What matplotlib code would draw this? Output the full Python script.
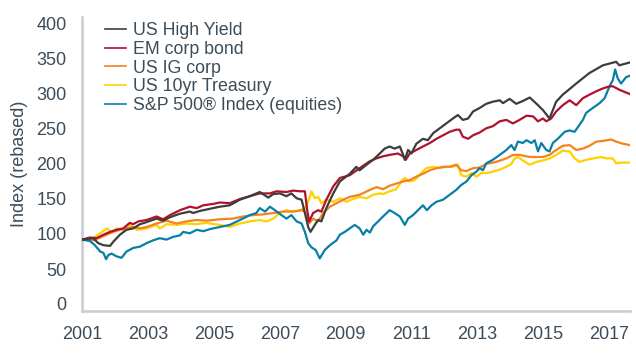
#!/usr/bin/env python3
"""Rebased index levels: credit vs treasuries vs equities, 2001-2017."""

import matplotlib
matplotlib.use("Agg")
import matplotlib.pyplot as plt

# values (fractional year, index level)
hy_x = [2001.0, 2001.34, 2001.49, 2001.65, 2001.85, 2001.95, 2002.15, 2002.35, 2002.55, 2002.76,
        2002.96, 2003.26, 2003.46, 2003.67, 2003.97, 2004.27, 2004.37, 2004.58, 2004.88, 2005.18,
        2005.48, 2005.79, 2006.09, 2006.39, 2006.49, 2006.65, 2006.8, 2007.0, 2007.2, 2007.35,
        2007.51, 2007.66, 2007.76, 2007.86, 2007.93, 2008.06, 2008.16, 2008.26, 2008.41, 2008.62,
        2008.82, 2009.12, 2009.32, 2009.42, 2009.63, 2009.83, 2010.03, 2010.18, 2010.33, 2010.48,
        2010.64, 2010.74, 2010.79, 2010.89, 2010.99, 2011.14, 2011.34, 2011.49, 2011.65, 2011.85,
        2012.05, 2012.25, 2012.4, 2012.55, 2012.71, 2012.86, 2013.06, 2013.26, 2013.46, 2013.67,
        2013.77, 2013.97, 2014.17, 2014.37, 2014.58, 2014.83, 2014.98, 2015.18, 2015.38, 2015.58,
        2015.99, 2016.39, 2016.8, 2017.2, 2017.3, 2017.61]
hy_y = [92, 94, 87, 84, 83, 89, 99, 106, 108, 114,
        117, 122, 119, 124, 129, 132, 130, 133, 136, 139,
        141, 149, 154, 160, 157, 152, 157, 158, 154, 158,
        151, 149, 130, 110, 103, 113, 120, 118, 137, 158,
        175, 186, 196, 191, 199, 206, 215, 222, 225, 222,
        225, 213, 206, 220, 215, 229, 236, 234, 244, 251,
        258, 265, 270, 263, 265, 275, 280, 286, 289, 291,
        287, 293, 286, 290, 295, 284, 277, 265, 289, 299,
        315, 330, 341, 346, 341, 345]

em_x = [2001.0, 2001.24, 2001.44, 2001.65, 2001.85, 2002.05, 2002.25, 2002.45, 2002.55, 2002.71,
        2002.96, 2003.26, 2003.46, 2003.67, 2003.97, 2004.27, 2004.48, 2004.68, 2004.98, 2005.18,
        2005.48, 2005.79, 2006.09, 2006.39, 2006.7, 2006.9, 2007.2, 2007.4, 2007.61, 2007.76,
        2007.83, 2007.89, 2008.01, 2008.16, 2008.26, 2008.41, 2008.62, 2008.82, 2009.12, 2009.42,
        2009.73, 2009.93, 2010.13, 2010.33, 2010.58, 2010.74, 2010.82, 2010.94, 2011.14, 2011.34,
        2011.55, 2011.75, 2011.95, 2012.15, 2012.35, 2012.45, 2012.55, 2012.71, 2012.86, 2013.06,
        2013.26, 2013.46, 2013.67, 2013.87, 2014.07, 2014.27, 2014.48, 2014.68, 2014.83, 2014.98,
        2015.08, 2015.23, 2015.38, 2015.58, 2015.79, 2015.99, 2016.19, 2016.39, 2016.6, 2016.8,
        2017.0, 2017.1, 2017.3, 2017.61]
em_y = [92, 95, 94, 99, 103, 106, 108, 116, 114, 118,
        120, 125, 121, 127, 134, 139, 137, 141, 143, 145,
        144, 150, 154, 158, 158, 161, 160, 162, 161, 161,
        134, 118, 130, 134, 132, 149, 168, 180, 184, 194,
        204, 208, 211, 213, 215, 211, 206, 215, 220, 225,
        230, 236, 241, 246, 249, 249, 239, 236, 241, 245,
        251, 254, 261, 263, 258, 263, 269, 268, 261, 265,
        261, 265, 275, 284, 291, 284, 294, 299, 304, 308,
        311, 311, 306, 300]

ig_x = [2001.0, 2001.34, 2001.55, 2001.75, 2001.95, 2002.15, 2002.35, 2002.55, 2002.76, 2002.96,
        2003.26, 2003.56, 2003.87, 2004.17, 2004.48, 2004.78, 2005.18, 2005.58, 2005.89, 2006.19,
        2006.49, 2006.8, 2007.1, 2007.4, 2007.66, 2007.76, 2007.83, 2007.89, 2008.01, 2008.16,
        2008.31, 2008.52, 2008.72, 2008.92, 2009.12, 2009.42, 2009.73, 2009.93, 2010.13, 2010.33,
        2010.53, 2010.74, 2010.94, 2011.14, 2011.34, 2011.55, 2011.75, 2011.95, 2012.15, 2012.35,
        2012.5, 2012.66, 2012.86, 2013.06, 2013.26, 2013.56, 2013.87, 2014.07, 2014.27, 2014.58,
        2014.78, 2014.98, 2015.18, 2015.38, 2015.58, 2015.79, 2015.99, 2016.19, 2016.39, 2016.6,
        2016.8, 2017.05, 2017.2, 2017.4, 2017.61]
ig_y = [92, 91, 95, 99, 103, 106, 108, 110, 108, 110,
        115, 119, 115, 118, 120, 119, 121, 122, 125, 127,
        128, 130, 132, 132, 134, 132, 122, 115, 122, 118,
        130, 139, 144, 149, 153, 156, 163, 167, 164, 169,
        172, 175, 177, 182, 186, 191, 194, 196, 196, 199,
        191, 190, 194, 195, 200, 203, 208, 213, 213, 210,
        210, 210, 213, 220, 226, 227, 220, 222, 226, 232,
        233, 235, 232, 229, 227]

tsy_x = [2001.0, 2001.24, 2001.49, 2001.75, 2001.9, 2002.05, 2002.25, 2002.45, 2002.66, 2002.96,
         2003.26, 2003.36, 2003.56, 2003.87, 2004.17, 2004.48, 2004.78, 2004.88, 2005.18, 2005.48,
         2005.79, 2006.09, 2006.39, 2006.6, 2006.8, 2007.0, 2007.2, 2007.4, 2007.61, 2007.76,
         2007.86, 2007.96, 2008.06, 2008.16, 2008.26, 2008.41, 2008.62, 2008.82, 2009.02, 2009.22,
         2009.42, 2009.63, 2009.83, 2010.03, 2010.13, 2010.33, 2010.53, 2010.69, 2010.79, 2010.94,
         2011.09, 2011.29, 2011.44, 2011.65, 2011.85, 2012.05, 2012.25, 2012.4, 2012.5, 2012.66,
         2012.81, 2012.96, 2013.11, 2013.26, 2013.46, 2013.67, 2013.87, 2014.02, 2014.12, 2014.22,
         2014.37, 2014.58, 2014.78, 2014.98, 2015.18, 2015.38, 2015.58, 2015.79, 2015.94, 2016.09,
         2016.29, 2016.5, 2016.75, 2016.9, 2017.1, 2017.2, 2017.35, 2017.61]
tsy_y = [92, 91, 99, 108, 103, 108, 106, 113, 106, 108,
         113, 108, 114, 113, 115, 114, 116, 115, 113, 110,
         115, 118, 120, 118, 122, 130, 134, 132, 134, 137,
         146, 161, 151, 153, 144, 149, 146, 151, 146, 150,
         153, 151, 156, 158, 157, 161, 164, 175, 180, 175,
         177, 187, 194, 196, 194, 196, 196, 199, 184, 182,
         187, 182, 187, 187, 189, 192, 196, 200, 208, 210,
         205, 199, 203, 205, 208, 213, 219, 218, 208, 203,
         206, 208, 210, 208, 208, 201, 202, 202]

spx_x = [2001.0, 2001.24, 2001.39, 2001.55, 2001.65, 2001.73, 2001.8, 2001.9, 2002.05, 2002.2,
         2002.35, 2002.55, 2002.76, 2002.96, 2003.16, 2003.36, 2003.56, 2003.77, 2003.97, 2004.07,
         2004.27, 2004.48, 2004.68, 2004.88, 2005.18, 2005.48, 2005.79, 2006.09, 2006.29, 2006.39,
         2006.55, 2006.7, 2006.85, 2007.05, 2007.2, 2007.35, 2007.51, 2007.66, 2007.76, 2007.86,
         2007.96, 2008.09, 2008.21, 2008.36, 2008.52, 2008.72, 2008.82, 2008.97, 2009.12, 2009.27,
         2009.42, 2009.53, 2009.63, 2009.73, 2009.83, 2009.98, 2010.13, 2010.33, 2010.48, 2010.64,
         2010.79, 2010.89, 2011.04, 2011.19, 2011.34, 2011.46, 2011.6, 2011.75, 2011.95, 2012.15,
         2012.35, 2012.5, 2012.66, 2012.81, 2012.96, 2013.06, 2013.16, 2013.26, 2013.46, 2013.67,
         2013.87, 2014.02, 2014.12, 2014.22, 2014.37, 2014.48, 2014.63, 2014.73, 2014.83, 2014.93,
         2015.08, 2015.18, 2015.28, 2015.43, 2015.64, 2015.79, 2015.94, 2016.09, 2016.19, 2016.29,
         2016.49, 2016.7, 2016.85, 2017.0, 2017.1, 2017.17, 2017.25, 2017.35, 2017.5, 2017.61]
spx_y = [92, 90, 84, 75, 73, 64, 70, 72, 68, 66,
         75, 80, 82, 87, 91, 94, 92, 96, 98, 103,
         101, 106, 104, 107, 110, 113, 120, 127, 130, 137,
         132, 139, 134, 127, 122, 127, 118, 115, 103, 87,
         81, 77, 65, 77, 84, 91, 99, 103, 108, 113,
         108, 99, 106, 102, 111, 118, 125, 134, 130, 125,
         113, 122, 127, 134, 141, 134, 141, 146, 149, 156,
         163, 170, 175, 184, 189, 194, 191, 201, 206, 213,
         220, 227, 220, 232, 230, 234, 230, 234, 218, 230,
         220, 218, 230, 236, 246, 248, 246, 256, 263, 273,
         280, 287, 294, 311, 320, 335, 322, 315, 324, 326]

labels = ["US High Yield", "EM corp bond", "US IG corp", "US 10yr Treasury",
          "S&P 500\u00ae Index (equities)"]
colors = ["#3d3d3d", "#b0122c", "#f5821f", "#ffd100", "#0a7fa6"]
year_ticks = [2001, 2003, 2005, 2007, 2009, 2011, 2013, 2015, 2017]

TEXT = "#3c4c59"
SPINE = "#c8ccd0"

plt.rcParams["font.family"] = ["Liberation Sans", "DejaVu Sans"]

fig = plt.figure(figsize=(6.36, 3.56), dpi=100)
ax = fig.add_axes([82 / 636, 1 - 311 / 356, 548 / 636, 294 / 356])

series = [(hy_x, hy_y), (em_x, em_y), (ig_x, ig_y), (tsy_x, tsy_y), (spx_x, spx_y)]
zorders = [5, 4, 2, 1, 3]
handles = []
for (xs, ys), lab, col, z in zip(series, labels, colors, zorders):
    (ln,) = ax.plot(xs, ys, color=col, lw=1.6, label=lab, zorder=z, solid_joinstyle="round")
    handles.append(ln)

ax.set_xlim(2001, 2017.62)
ax.set_ylim(-10, 410)
ax.set_yticks(range(0, 401, 50))
ax.set_xticks(year_ticks)
ax.set_xticklabels([str(y) for y in year_ticks])
ax.tick_params(length=0, labelsize=13, colors=TEXT)
ax.tick_params(axis="y", pad=11)
ax.tick_params(axis="x", pad=11)
ax.set_ylabel("Index (rebased)", fontsize=13, color=TEXT, labelpad=6)

for side in ("top", "right"):
    ax.spines[side].set_visible(False)
for side in ("left", "bottom"):
    ax.spines[side].set_color(SPINE)
    ax.spines[side].set_linewidth(1.8)

leg = ax.legend(handles=handles, loc="upper left", bbox_to_anchor=(105 / 636, 1 - 22 / 356),
                bbox_transform=fig.transFigure, frameon=False, fontsize=12.8,
                handlelength=1.2, handletextpad=0.4, labelspacing=0.1, borderpad=0,
                borderaxespad=0)
for txt in leg.get_texts():
    txt.set_color(TEXT)
for lh in leg.get_lines():
    lh.set_linewidth(1.2)

fig.savefig("out.png", dpi=100)
plt.close(fig)
